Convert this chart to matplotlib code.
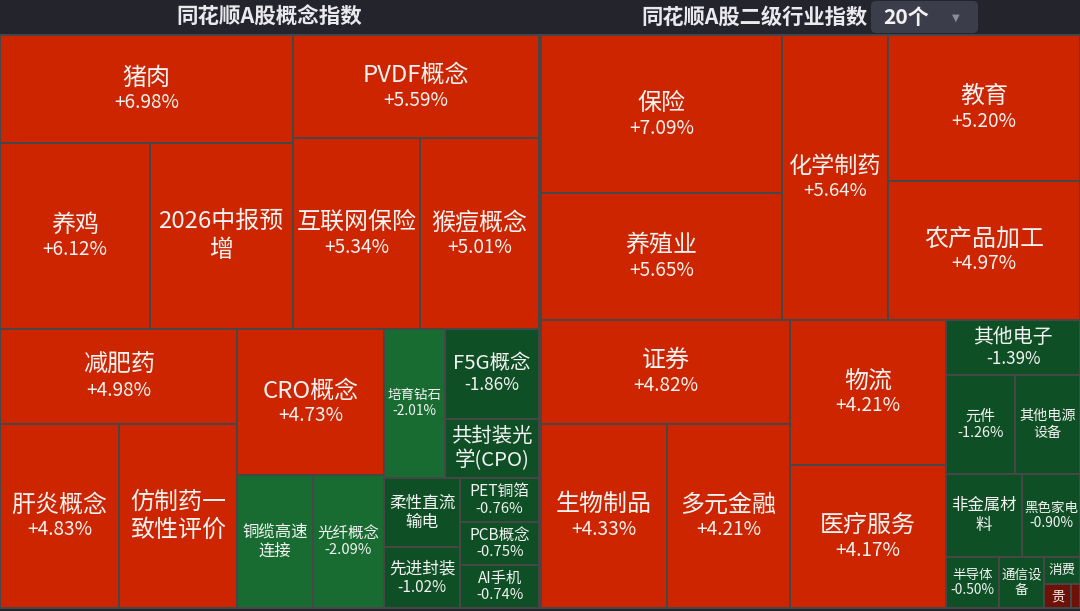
import matplotlib
matplotlib.use("Agg")
import matplotlib.pyplot as plt
from matplotlib.patches import Rectangle, FancyBboxPatch
from matplotlib.font_manager import FontProperties

FAM = ["Noto Sans CJK SC", "DejaVu Sans"]
plt.rcParams["font.family"] = FAM

# ---------------- data ----------------
concept_title = "同花顺A股概念指数"
concept_names = ["猪肉", "养鸡", "2026中报预增", "PVDF概念", "互联网保险", "猴痘概念",
                 "减肥药", "肝炎概念", "仿制药一致性评价", "CRO概念", "铜缆高速连接", "光纤概念",
                 "培育钻石", "F5G概念", "共封装光学(CPO)", "柔性直流输电", "先进封装",
                 "PET铜箔", "PCB概念", "AI手机"]
concept_pct = [6.98, 6.12, 5.86, 5.59, 5.34, 5.01,
               4.98, 4.83, 4.80, 4.73, -2.21, -2.09,
               -2.01, -1.86, -1.23, -1.17, -1.02,
               -0.76, -0.75, -0.74]

industry_title = "同花顺A股二级行业指数"
industry_count_label = "20个"
industry_names = ["保险", "养殖业", "化学制药", "教育", "农产品加工",
                  "证券", "生物制品", "多元金融", "物流", "医疗服务",
                  "其他电子", "元件", "其他电源设备", "非金属材料", "黑色家电",
                  "半导体", "通信设备", "消费电子", "贵金属", "小金属"]
industry_pct = [7.09, 5.65, 5.64, 5.20, 4.97,
                4.82, 4.33, 4.21, 4.21, 4.17,
                -1.39, -1.26, -1.19, -1.17, -0.90,
                -0.50, -0.43, -0.18, 0.12, 0.04]

# ---------------- style ----------------
W, H = 1080, 611
BG = "#23242c"
RED = "#cd2500"
DARK_RED = "#6e1207"
GREEN_LIGHT = "#186c32"
GREEN_DARK = "#0f4f25"
EDGE = "#474747"
TXT = "#f3f3f3"

fig = plt.figure(figsize=(W / 100, H / 100), dpi=100, facecolor=BG)
ax = fig.add_axes([0, 0, 1, 1])
ax.set_xlim(0, W)
ax.set_ylim(H, 0)
ax.axis("off")
ax.set_facecolor(BG)
renderer = fig.canvas.get_renderer()


def px2pt(px):
    return px * 0.72


def text_w(s, px, weight="normal"):
    fp = FontProperties(family=FAM, size=px2pt(px), weight=weight)
    w, h, d = renderer.get_text_width_height_descent(s, fp, ismath=False)
    return w


def binary_layout(values, x0, y0, x1, y1):
    """d3.treemapBinary"""
    n = len(values)
    sums = [0.0]
    for v in values:
        sums.append(sums[-1] + v)
    rects = [None] * n

    def part(i, j, value, x0, y0, x1, y1):
        if i >= j - 1:
            rects[i] = (x0, y0, x1, y1)
            return
        off = sums[i]
        target = value / 2 + off
        k, hi = i + 1, j - 1
        while k < hi:
            mid = (k + hi) >> 1
            if sums[mid] < target:
                k = mid + 1
            else:
                hi = mid
        if (target - sums[k - 1]) < (sums[k] - target) and i + 1 < k:
            k -= 1
        vl = sums[k] - off
        vr = value - vl
        if (x1 - x0) > (y1 - y0):
            xk = (x0 * vr + x1 * vl) / value
            part(i, k, vl, x0, y0, xk, y1)
            part(k, j, vr, xk, y0, x1, y1)
        else:
            yk = (y0 * vr + y1 * vl) / value
            part(i, k, vl, x0, y0, x1, yk)
            part(k, j, vr, x0, yk, x1, y1)

    part(0, n, sums[-1], x0, y0, x1, y1)
    return rects


def color_for(p):
    if p >= 1:
        return RED
    if p > 0:
        return DARK_RED
    if p <= -2:
        return GREEN_LIGHT
    return GREEN_DARK


def wrap(s, px, avail):
    lines, cur = [], ""
    for ch in s:
        if cur and text_w(cur + ch, px) > avail:
            lines.append(cur)
            cur = ch
        else:
            cur += ch
    if cur:
        lines.append(cur)
    return lines


def draw_panel(names, pcts, box):
    vals = [abs(p) for p in pcts]
    rects = binary_layout(vals, *box)
    for name, p, (x0, y0, x1, y1) in zip(names, pcts, rects):
        w, h = x1 - x0, y1 - y0
        ax.add_patch(Rectangle((x0, y0), w, h, facecolor=color_for(p),
                               edgecolor=EDGE, linewidth=1.4))
        fs = max(13.5, min(24.0, w / 4.6, h / 2.8))
        vfs = 0.5 * fs + 7.0
        avail = w - 4
        cx, cy = (x0 + x1) / 2, (y0 + y1) / 2
        lines = wrap(name, fs, avail)
        if text_w(lines[0], fs) > avail:
            continue
        if len(lines) == 1 and h >= 1.15 * (fs + vfs) + 4:
            blk = 1.15 * fs + 1.15 * vfs
            ny = cy - blk / 2 + 0.575 * fs
            vy = cy + blk / 2 - 0.575 * vfs
            ax.text(cx, ny, name, ha="center", va="center", color=TXT,
                    fontsize=px2pt(fs))
            ax.text(cx, vy, f"{p:+.2f}%", ha="center", va="center", color=TXT,
                    fontsize=px2pt(vfs))
        else:
            lh = 1.18 * fs
            nfit = max(1, int((h - 2) / lh))
            lines = lines[:nfit]
            top = cy - lh * (len(lines) - 1) / 2
            for i, ln in enumerate(lines):
                ax.text(cx, top + i * lh, ln, ha="center", va="center",
                        color=TXT, fontsize=px2pt(fs))


draw_panel(concept_names, concept_pct, (0, 35, 539, 608))
draw_panel(industry_names, industry_pct, (541, 35, 1080, 608))

# ---------------- header ----------------
ax.text(269.5, 17, concept_title, ha="center", va="center", color="#e9e9ee",
        fontsize=px2pt(21.5), fontweight="bold")
ax.text(754.5, 17, industry_title, ha="center", va="center", color="#e9e9ee",
        fontsize=px2pt(21.3), fontweight="bold")
ax.add_patch(FancyBboxPatch((871, 1), 107, 32, boxstyle="round,pad=0,rounding_size=5",
                            facecolor="#3b3d4a", edgecolor="none"))
ax.text(883, 17.5, industry_count_label, ha="left", va="center", color="#f2f2f2",
        fontsize=px2pt(21), fontweight="bold")
ax.text(956, 18, "▼", ha="center", va="center", color="#8b8d9a",
        fontsize=px2pt(10), family="DejaVu Sans")

fig.savefig("out.png", dpi=100, facecolor=BG)
